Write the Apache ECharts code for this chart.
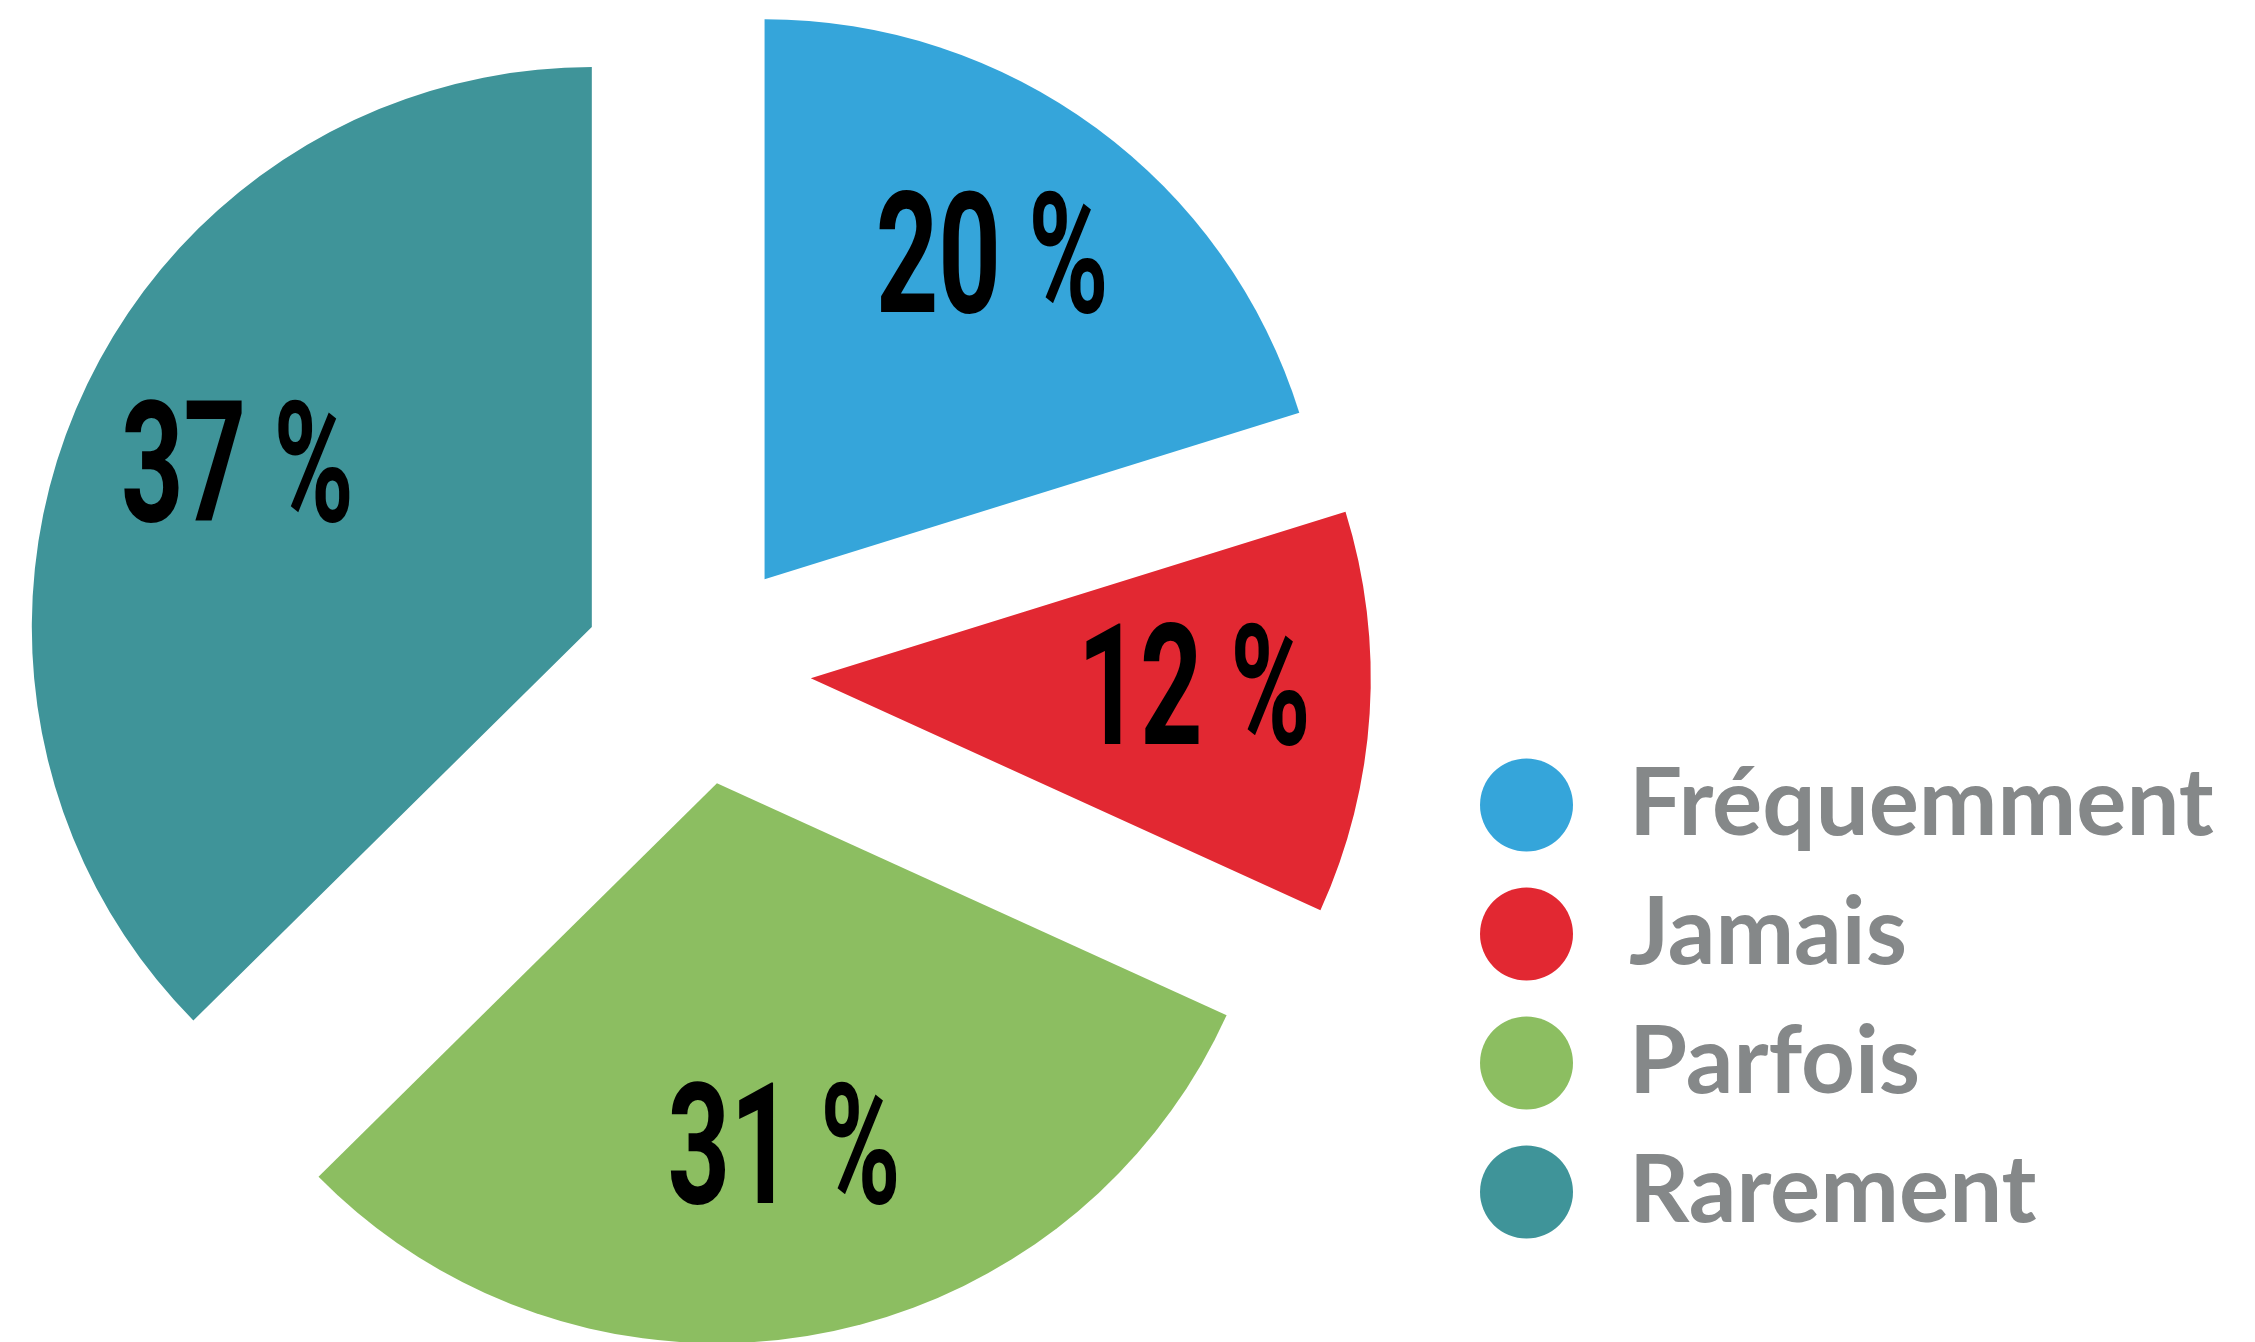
<!DOCTYPE html>
<html>
<head>
<meta charset="utf-8">
<script src="https://cdn.jsdelivr.net/npm/echarts@6/dist/echarts.min.js"></script>
<style>
html, body { margin: 0; padding: 0; background: #fff; }
#main { width: 2255px; height: 1342px; }
</style>
</head>
<body>
<div id="main"></div>
<script>
var categories = ['Fréquemment', 'Jamais', 'Parfois', 'Rarement'];
var values = [20.2, 11.6, 30.8, 37.4];
var colors = ['#35A5DA', '#E22832', '#8CBE61', '#3F9499'];

var labelScaleX = 0.65; // police condensée simulée

var pieData = [];
var labelData = [];
for (var i = 0; i < categories.length; i++) {
    pieData.push({ name: categories[i], value: values[i], selected: true, itemStyle: { color: colors[i] } });
    labelData.push({ name: categories[i], value: values[i], selected: true });
}

var myChart = echarts.init(document.getElementById('main'));

var option = {
    animation: false,
    legend: {
        orient: 'vertical',
        left: 1475,
        top: 753,
        icon: 'circle',
        itemWidth: 93,
        itemHeight: 93,
        itemGap: 35,
        selectedMode: false,
        data: categories,
        textStyle: {
            fontFamily: 'Lato',
            fontWeight: 'bold',
            fontSize: 94,
            lineHeight: 93,
            color: '#858889',
            padding: [0, 0, 0, 51]
        }
    },
    series: [
        {
            // parts du camembert
            type: 'pie',
            center: [697, 671],
            radius: 560,
            startAngle: 90,
            clockwise: true,
            selectedMode: 'multiple',
            selectedOffset: 114,
            label: { show: false },
            labelLine: { show: false },
            emphasis: { scale: false },
            data: pieData
        },
        {
            // étiquettes seulement (anneau transparent)
            type: 'pie',
            silent: true,
            center: [697, 671],
            radius: [202, 560],
            startAngle: 90,
            clockwise: true,
            selectedMode: 'multiple',
            selectedOffset: 114,
            itemStyle: { color: 'rgba(0,0,0,0)' },
            label: {
                show: true,
                position: 'inside',
                formatter: function (p) { return Math.round(p.value) + ' %'; },
                fontFamily: 'Roboto',
                fontWeight: 'bold',
                fontSize: 168,
                color: '#000'
            },
            labelLine: { show: false },
            emphasis: { scale: false },
            data: labelData
        }
    ]
};

myChart.setOption(option);

// resserrer les étiquettes horizontalement
function condense(el) {
    var t = el.getTextContent && el.getTextContent();
    if (t && t.style && /%$/.test(t.style.text || '')) {
        t.scaleX = labelScaleX;
        t.markRedraw();
        el.markRedraw();
    }
    if (el.isGroup) el.eachChild(condense);
}
myChart.getZr().storage.getRoots().forEach(condense);
myChart.getZr().refreshImmediately();
</script>
</body>
</html>
